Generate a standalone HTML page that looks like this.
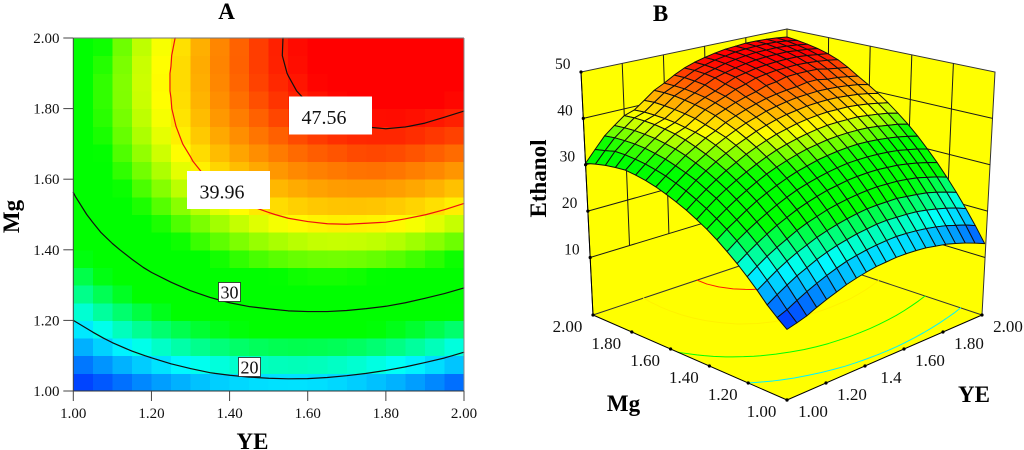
<!DOCTYPE html>
<html lang="en">
<head>
<meta charset="utf-8">
<title>Ethanol response surface</title>
<style>
html,body{margin:0;padding:0;background:#fff;}
svg{display:block;font-family:"Liberation Serif",serif;}
.ttl{font-weight:bold;font-size:23px;fill:#000;}
</style>
</head>
<body>
<svg id="fig" xmlns="http://www.w3.org/2000/svg" width="1024" height="450" viewBox="0 0 1024 450">
  <rect width="1024" height="450" fill="#fff"/>
  <text class="ttl" x="226.5" y="19" text-anchor="middle">A</text>
  <text class="ttl" x="660.5" y="21" text-anchor="middle">B</text>
  <g id="panelA"></g>
  <g id="labelsA">
    <rect x="187" y="171" width="83" height="38" fill="#fff"/>
    <text x="199.5" y="198.5" font-size="20" fill="#111">39.96</text>
    <rect x="289" y="96.5" width="83" height="38" fill="#fff"/>
    <text x="301.5" y="124" font-size="20" fill="#111">47.56</text>
    <rect x="218.5" y="282.5" width="22" height="19" fill="#fff" stroke="#222" stroke-width="0.8"/>
    <text x="229.5" y="298.5" font-size="18" text-anchor="middle" fill="#111">30</text>
    <rect x="238.5" y="357.5" width="22" height="19" fill="#fff" stroke="#222" stroke-width="0.8"/>
    <text x="249.5" y="373.5" font-size="18" text-anchor="middle" fill="#111">20</text>
  </g>
  <text class="ttl" x="252.5" y="449" text-anchor="middle">YE</text>
  <text class="ttl" x="0" y="0" text-anchor="middle" transform="translate(19,216.5) rotate(-90)">Mg</text>
  <g id="panelB"></g>
  <text class="ttl" x="0" y="0" text-anchor="middle" transform="translate(546,178.5) rotate(-90)">Ethanol</text>
  <text class="ttl" x="623.5" y="411" text-anchor="middle">Mg</text>
  <text class="ttl" x="974" y="402" text-anchor="middle">YE</text>
</svg>
<script>
const axisTicks = [1.00, 1.20, 1.40, 1.60, 1.80, 2.00];
const tickLabels = ["1.00", "1.20", "1.40", "1.60", "1.80", "2.00"];
const yeLabelsB = ["1.00", "1.20", "1.4", "1.60", "1.80", "2.00"];
const zTicks = [10, 20, 30, 40, 50];
const contourLevels = [20, 30, 39.96, 47.56];
/* Ethanol read on a 21 x 21 grid: rows Mg 1.00 -> 2.00, columns YE 1.00 -> 2.00 */
const ethanolGrid = [
[12.4,12.9,13.5,14.4,15.2,15.9,16.6,17.1,17.5,17.8,17.9,18.0,17.9,17.7,17.4,16.9,16.4,15.7,14.9,14.0,13.0],
[14.0,14.8,15.9,16.9,17.8,18.6,19.3,19.9,20.3,20.6,20.8,20.9,20.9,20.7,20.4,20.0,19.5,18.9,18.1,17.3,16.3],
[15.8,17.1,18.3,19.4,20.3,21.2,21.9,22.5,22.9,23.3,23.5,23.7,23.7,23.5,23.3,23.0,22.5,21.9,21.2,20.4,19.4],
[18.0,19.3,20.6,21.7,22.7,23.5,24.3,24.9,25.4,25.8,26.1,26.3,26.3,26.2,26.1,25.7,25.3,24.8,24.1,23.3,22.4],
[20.0,21.4,22.7,23.8,24.8,25.8,26.6,27.2,27.8,28.2,28.5,28.7,28.8,28.8,28.6,28.4,28.0,27.5,26.8,26.1,25.2],
[21.9,23.3,24.6,25.8,26.9,27.8,28.7,29.4,30.0,30.5,30.8,31.1,31.2,31.2,31.1,30.8,30.5,30.0,29.4,28.7,27.9],
[23.6,25.1,26.4,27.6,28.7,29.7,30.6,31.4,32.0,32.5,32.9,33.2,33.4,33.4,33.3,33.1,32.8,32.4,31.8,31.2,30.4],
[25.2,26.7,28.0,29.3,30.5,31.5,32.4,33.2,33.9,34.4,34.9,35.2,35.4,35.5,35.5,35.3,35.0,34.6,34.1,33.5,32.8],
[26.6,28.1,29.5,30.8,32.0,33.1,34.1,34.9,35.6,36.2,36.7,37.0,37.3,37.4,37.4,37.3,37.1,36.7,36.2,35.7,35.0],
[27.8,29.4,30.9,32.2,33.4,34.5,35.5,36.4,37.2,37.8,38.3,38.7,39.0,39.2,39.2,39.1,39.0,38.6,38.2,37.7,37.0],
[28.9,30.5,32.0,33.4,34.7,35.8,36.9,37.8,38.6,39.3,39.8,40.3,40.6,40.8,40.9,40.8,40.7,40.4,40.0,39.5,38.9],
[29.8,31.5,33.1,34.5,35.8,37.0,38.1,39.0,39.9,40.6,41.2,41.7,42.0,42.3,42.4,42.4,42.3,42.0,41.7,41.2,40.6],
[30.6,32.3,33.9,35.4,36.7,38.0,39.1,40.1,41.0,41.7,42.4,42.9,43.3,43.6,43.7,43.8,43.7,43.5,43.2,42.8,42.2],
[31.3,33.0,34.6,36.2,37.5,38.8,39.8,41.0,41.9,42.7,43.4,44.0,44.4,44.7,44.9,45.3,45.3,44.8,44.6,44.2,43.7],
[31.8,33.5,35.2,36.8,38.2,39.3,40.4,41.8,42.7,43.6,44.3,44.9,45.7,46.0,46.6,46.7,46.7,46.6,46.1,45.7,45.3],
[32.1,33.9,35.6,37.2,38.7,39.6,41.0,42.4,43.4,44.3,45.3,46.0,46.8,47.2,47.5,47.6,47.7,47.6,47.4,47.1,46.7],
[32.3,34.1,35.9,37.5,39.0,39.9,41.3,42.8,43.9,44.8,45.9,46.9,47.4,47.9,48.2,48.4,48.5,48.5,48.3,48.0,47.7],
[32.0,34.2,36.0,37.6,39.2,40.0,41.5,43.1,44.2,45.5,46.6,47.3,47.9,48.4,48.8,49.0,49.1,49.2,49.0,48.8,48.5],
[31.6,34.1,35.9,37.6,39.2,40.0,41.6,43.3,44.4,45.7,46.9,47.6,48.3,48.8,49.2,49.5,49.6,49.7,49.6,49.4,49.1],
[31.0,33.4,35.7,37.4,39.1,39.9,41.6,43.3,44.4,45.8,47.0,47.8,48.5,49.0,49.5,49.8,50.0,50.1,50.1,49.9,49.6],
[30.3,32.8,35.3,37.1,38.8,39.6,41.3,43.1,44.3,45.7,46.9,47.8,48.5,49.1,49.6,49.9,50.2,50.3,50.3,50.2,50.0]
];

const NS = "http://www.w3.org/2000/svg";
const panelA = document.getElementById("panelA");
const panelB = document.getElementById("panelB");
function make(tag, parent, attrs) {
  const el = document.createElementNS(NS, tag);
  for (const k in attrs) el.setAttribute(k, attrs[k]);
  parent.appendChild(el);
  return el;
}

/* ---------- colour scale ---------- */
const colorStops = [
  [11, 0, 0, 255], [20.5, 0, 255, 255], [27, 0, 255, 0],
  [34, 0, 255, 0], [39.5, 255, 255, 0], [48.5, 255, 0, 0]
];
function colorOf(z) {
  if (z <= colorStops[0][0]) return "rgb(0,0,255)";
  for (let k = 1; k < colorStops.length; k++) {
    if (z <= colorStops[k][0]) {
      const a = colorStops[k - 1], b = colorStops[k];
      const t = (z - a[0]) / (b[0] - a[0]);
      return "rgb(" + [1, 2, 3].map(c => Math.round(a[c] + (b[c] - a[c]) * t)).join(",") + ")";
    }
  }
  return "rgb(255,0,0)";
}

/* ---------- contour extraction (works in normalised u,v) ---------- */
const nCols = ethanolGrid[0].length - 1;
const nRows = ethanolGrid.length - 1;
function contourSegments(level) {
  const segs = [];
  for (let j = 0; j < nRows; j++) {
    for (let i = 0; i < nCols; i++) {
      const a = ethanolGrid[j][i], b = ethanolGrid[j][i + 1];
      const c = ethanolGrid[j + 1][i + 1], d = ethanolGrid[j + 1][i];
      const pts = [];
      if ((a < level) !== (b < level)) pts.push([(i + (level - a) / (b - a)) / nCols, j / nRows]);
      if ((b < level) !== (c < level)) pts.push([(i + 1) / nCols, (j + (level - b) / (c - b)) / nRows]);
      if ((d < level) !== (c < level)) pts.push([(i + (level - d) / (c - d)) / nCols, (j + 1) / nRows]);
      if ((a < level) !== (d < level)) pts.push([i / nCols, (j + (level - a) / (d - a)) / nRows]);
      if (pts.length >= 2) segs.push([pts[0], pts[1]]);
      if (pts.length === 4) segs.push([pts[2], pts[3]]);
    }
  }
  return segs;
}

/* ---------- panel A ---------- */
const xLeft = 73.3, xRight = 464, yTop = 38, yBottom = 391;
const xA = ye => xLeft + (ye - 1) * (xRight - xLeft);
const yA = mg => yBottom - (mg - 1) * (yBottom - yTop);
const uToYe = u => 1 + u;

const cellsA = make("g", panelA, { "shape-rendering": "crispEdges" });


for (let j = 0; j < nRows; j++) {
  for (let i = 0; i < nCols; i++) {
    const avg = (ethanolGrid[j][i] + ethanolGrid[j][i + 1] + ethanolGrid[j + 1][i] + ethanolGrid[j + 1][i + 1]) / 4;
    const x0 = xA(uToYe(i / nCols)), x1 = xA(uToYe((i + 1) / nCols));
    const y1 = yA(uToYe(j / nRows)), y0 = yA(uToYe((j + 1) / nRows));
    const col = colorOf(avg);
    const cell = make("rect", cellsA, { x: x0, y: y0, width: x1 - x0 + 0.5, height: y1 - y0 + 0.5, fill: col });
    
    
  }
}
const contourStrokeA = ["#111", "#111", "#f01010", "#111"];
contourLevels.forEach((lv, idx) => {
  const d = contourSegments(lv).map(s =>
    "M" + xA(uToYe(s[0][0])).toFixed(2) + " " + yA(uToYe(s[0][1])).toFixed(2) +
    "L" + xA(uToYe(s[1][0])).toFixed(2) + " " + yA(uToYe(s[1][1])).toFixed(2)).join("");
  const line = make("path", panelA, { d: d, fill: "none", stroke: contourStrokeA[idx], "stroke-width": 1.2, "stroke-linecap": "round" });
  
  
});
const frameLines = [
  [xLeft, yTop, xRight, yTop, "#777"], [xRight, yTop, xRight, yBottom, "#888"],
  [xLeft, yTop, xLeft, yBottom, "#444"], [xLeft, yBottom, xRight, yBottom, "#333"]
];
frameLines.forEach(f => {
  const edge = make("line", panelA, { x1: f[0], y1: f[1], x2: f[2], y2: f[3], stroke: f[4], "stroke-width": 1 });
  
  
});
axisTicks.forEach((t, idx) => {
  const tx = make("line", panelA, { x1: xA(t), y1: yBottom, x2: xA(t), y2: yBottom + 10, stroke: "#444", "stroke-width": 1 });
  
  
  const ty = make("line", panelA, { x1: xLeft - 10, y1: yA(t), x2: xLeft, y2: yA(t), stroke: "#444", "stroke-width": 1 });
  
  
  const lx = make("text", panelA, { x: xA(t), y: 418, "font-size": 15, "text-anchor": "middle", fill: "#111" });
  
  
  lx.textContent = tickLabels[idx];
  const ly = make("text", panelA, { x: 59.5, y: yA(t) + 5, "font-size": 15, "text-anchor": "end", fill: "#111" });
  
  
  ly.textContent = tickLabels[idx];
});

/* ---------- panel B: projection of (YE, Mg, Ethanol) ---------- */
const zBase = -2.4, zTop = 50;
const baseCorners = { F: [787, 400], R: [982, 315], L: [593, 315], B: [787, 250] };
const wallTopCorners = { F: [787, 150], R: [995, 72], L: [581, 72], B: [787, 29] };
const meshTopCorners = { F: [787, 150], R: [991, 72], L: [581, 72], B: [787, 37] };
function bilinear(q, u, v, k) {
  return (1 - u) * (1 - v) * q.F[k] + u * (1 - v) * q.R[k] + (1 - u) * v * q.L[k] + u * v * q.B[k];
}
function projectWith(topCorners, ye, mg, z) {
  const u = ye - 1, v = mg - 1, t = (z - zBase) / (zTop - zBase);
  const bx = bilinear(baseCorners, u, v, 0), by = bilinear(baseCorners, u, v, 1);
  const tx = bilinear(topCorners, u, v, 0), ty = bilinear(topCorners, u, v, 1);
  return [bx + (tx - bx) * t, by + (ty - by) * t];
}
const project = (ye, mg, z) => projectWith(wallTopCorners, ye, mg, z);
const projectMesh = (ye, mg, z) => projectWith(meshTopCorners, ye, mg, z);
const pts = list => list.map(p => p[0].toFixed(2) + "," + p[1].toFixed(2)).join(" ");

const floor = make("polygon", panelB, {
  points: pts([project(1, 1, zBase), project(2, 1, zBase), project(2, 2, zBase), project(1, 2, zBase)]),
  fill: "#ffff00"
});


const wallLeft = make("polygon", panelB, {
  points: pts([project(1, 2, zBase), project(2, 2, zBase), project(2, 2, zTop), project(1, 2, zTop)]),
  fill: "#ffff00", stroke: "#333", "stroke-width": 1
});


const wallRight = make("polygon", panelB, {
  points: pts([project(2, 1, zBase), project(2, 2, zBase), project(2, 2, zTop), project(2, 1, zTop)]),
  fill: "#ffff00", stroke: "#333", "stroke-width": 1
});



function wallLine(a, b) {
  const l = make("line", panelB, { x1: a[0], y1: a[1], x2: b[0], y2: b[1], stroke: "#1a1a1a", "stroke-width": 1 });
  
  
}
axisTicks.slice(1, 5).forEach(t => {
  wallLine(project(t, 2, zTicks[0]), project(t, 2, zTop));
  wallLine(project(2, t, zTicks[0]), project(2, t, zTop));
});
zTicks.slice(0, 4).forEach(z => {
  wallLine(project(1, 2, z), project(2, 2, z));
  wallLine(project(2, 1, z), project(2, 2, z));
});

/* floor projection of the contours */
contourLevels.forEach(lv => {
  const d = contourSegments(lv).map(s => {
    const p = project(uToYe(s[0][0]), uToYe(s[0][1]), zBase), q = project(uToYe(s[1][0]), uToYe(s[1][1]), zBase);
    return "M" + p[0].toFixed(2) + " " + p[1].toFixed(2) + "L" + q[0].toFixed(2) + " " + q[1].toFixed(2);
  }).join("");
  const fl = make("path", panelB, { d: d, fill: "none", stroke: colorOf(lv), "stroke-width": 1, "stroke-linecap": "round" });
  
  
});

/* surface drawn back to front */
const meshGroup = make("g", panelB, {});


for (let s = nCols + nRows - 2; s >= 0; s--) {
  for (let j = nRows - 1; j >= 0; j--) {
    const i = s - j;
    if (i < 0 || i >= nCols) continue;
    const a = ethanolGrid[j][i], b = ethanolGrid[j][i + 1], c = ethanolGrid[j + 1][i + 1], d = ethanolGrid[j + 1][i];
    const u0 = uToYe(i / nCols), u1 = uToYe((i + 1) / nCols), v0 = uToYe(j / nRows), v1 = uToYe((j + 1) / nRows);
    const quad = make("polygon", meshGroup, {
      points: pts([projectMesh(u0, v0, a), projectMesh(u1, v0, b), projectMesh(u1, v1, c), projectMesh(u0, v1, d)]),
      fill: colorOf((a + b + c + d) / 4), stroke: "#101010", "stroke-width": 1, "stroke-linejoin": "round"
    });
    
    
  }
}

/* axes of panel B */
function axisLine(a, b) {
  const l = make("line", panelB, { x1: a[0], y1: a[1], x2: b[0], y2: b[1], stroke: "#000", "stroke-width": 1 });
  
  
}
function axisDot(p) {
  const c = make("circle", panelB, { cx: p[0], cy: p[1], r: 1.6, fill: "#000" });
  
  
}
axisLine(project(1, 1, zBase), project(2, 1, zBase));
axisLine(project(1, 1, zBase), project(1, 2, zBase));
axisLine(project(1, 2, zBase), project(1, 2, zTop));
axisTicks.forEach((t, idx) => {
  const pYe = project(t, 1, zBase), pMg = project(1, t, zBase);
  axisDot(pYe);
  axisDot(pMg);
  const lYe = make("text", panelB, { x: pYe[0] + 26, y: pYe[1] + 17, "font-size": 17, "text-anchor": "middle", fill: "#111" });
  
  
  lYe.textContent = yeLabelsB[idx];
  const lMg = make("text", panelB, { x: pMg[0] - 25.5, y: pMg[1] + 17, "font-size": 17, "text-anchor": "middle", fill: "#111" });
  
  
  lMg.textContent = tickLabels[idx];
});
zTicks.forEach(z => {
  const p = project(1, 2, z);
  axisDot(p);
  const lz = make("text", panelB, { x: p[0] - 10.5, y: p[1] - 3, "font-size": 15.5, "text-anchor": "end", fill: "#111" });
  
  
  lz.textContent = z;
});
</script>
</body>
</html>
